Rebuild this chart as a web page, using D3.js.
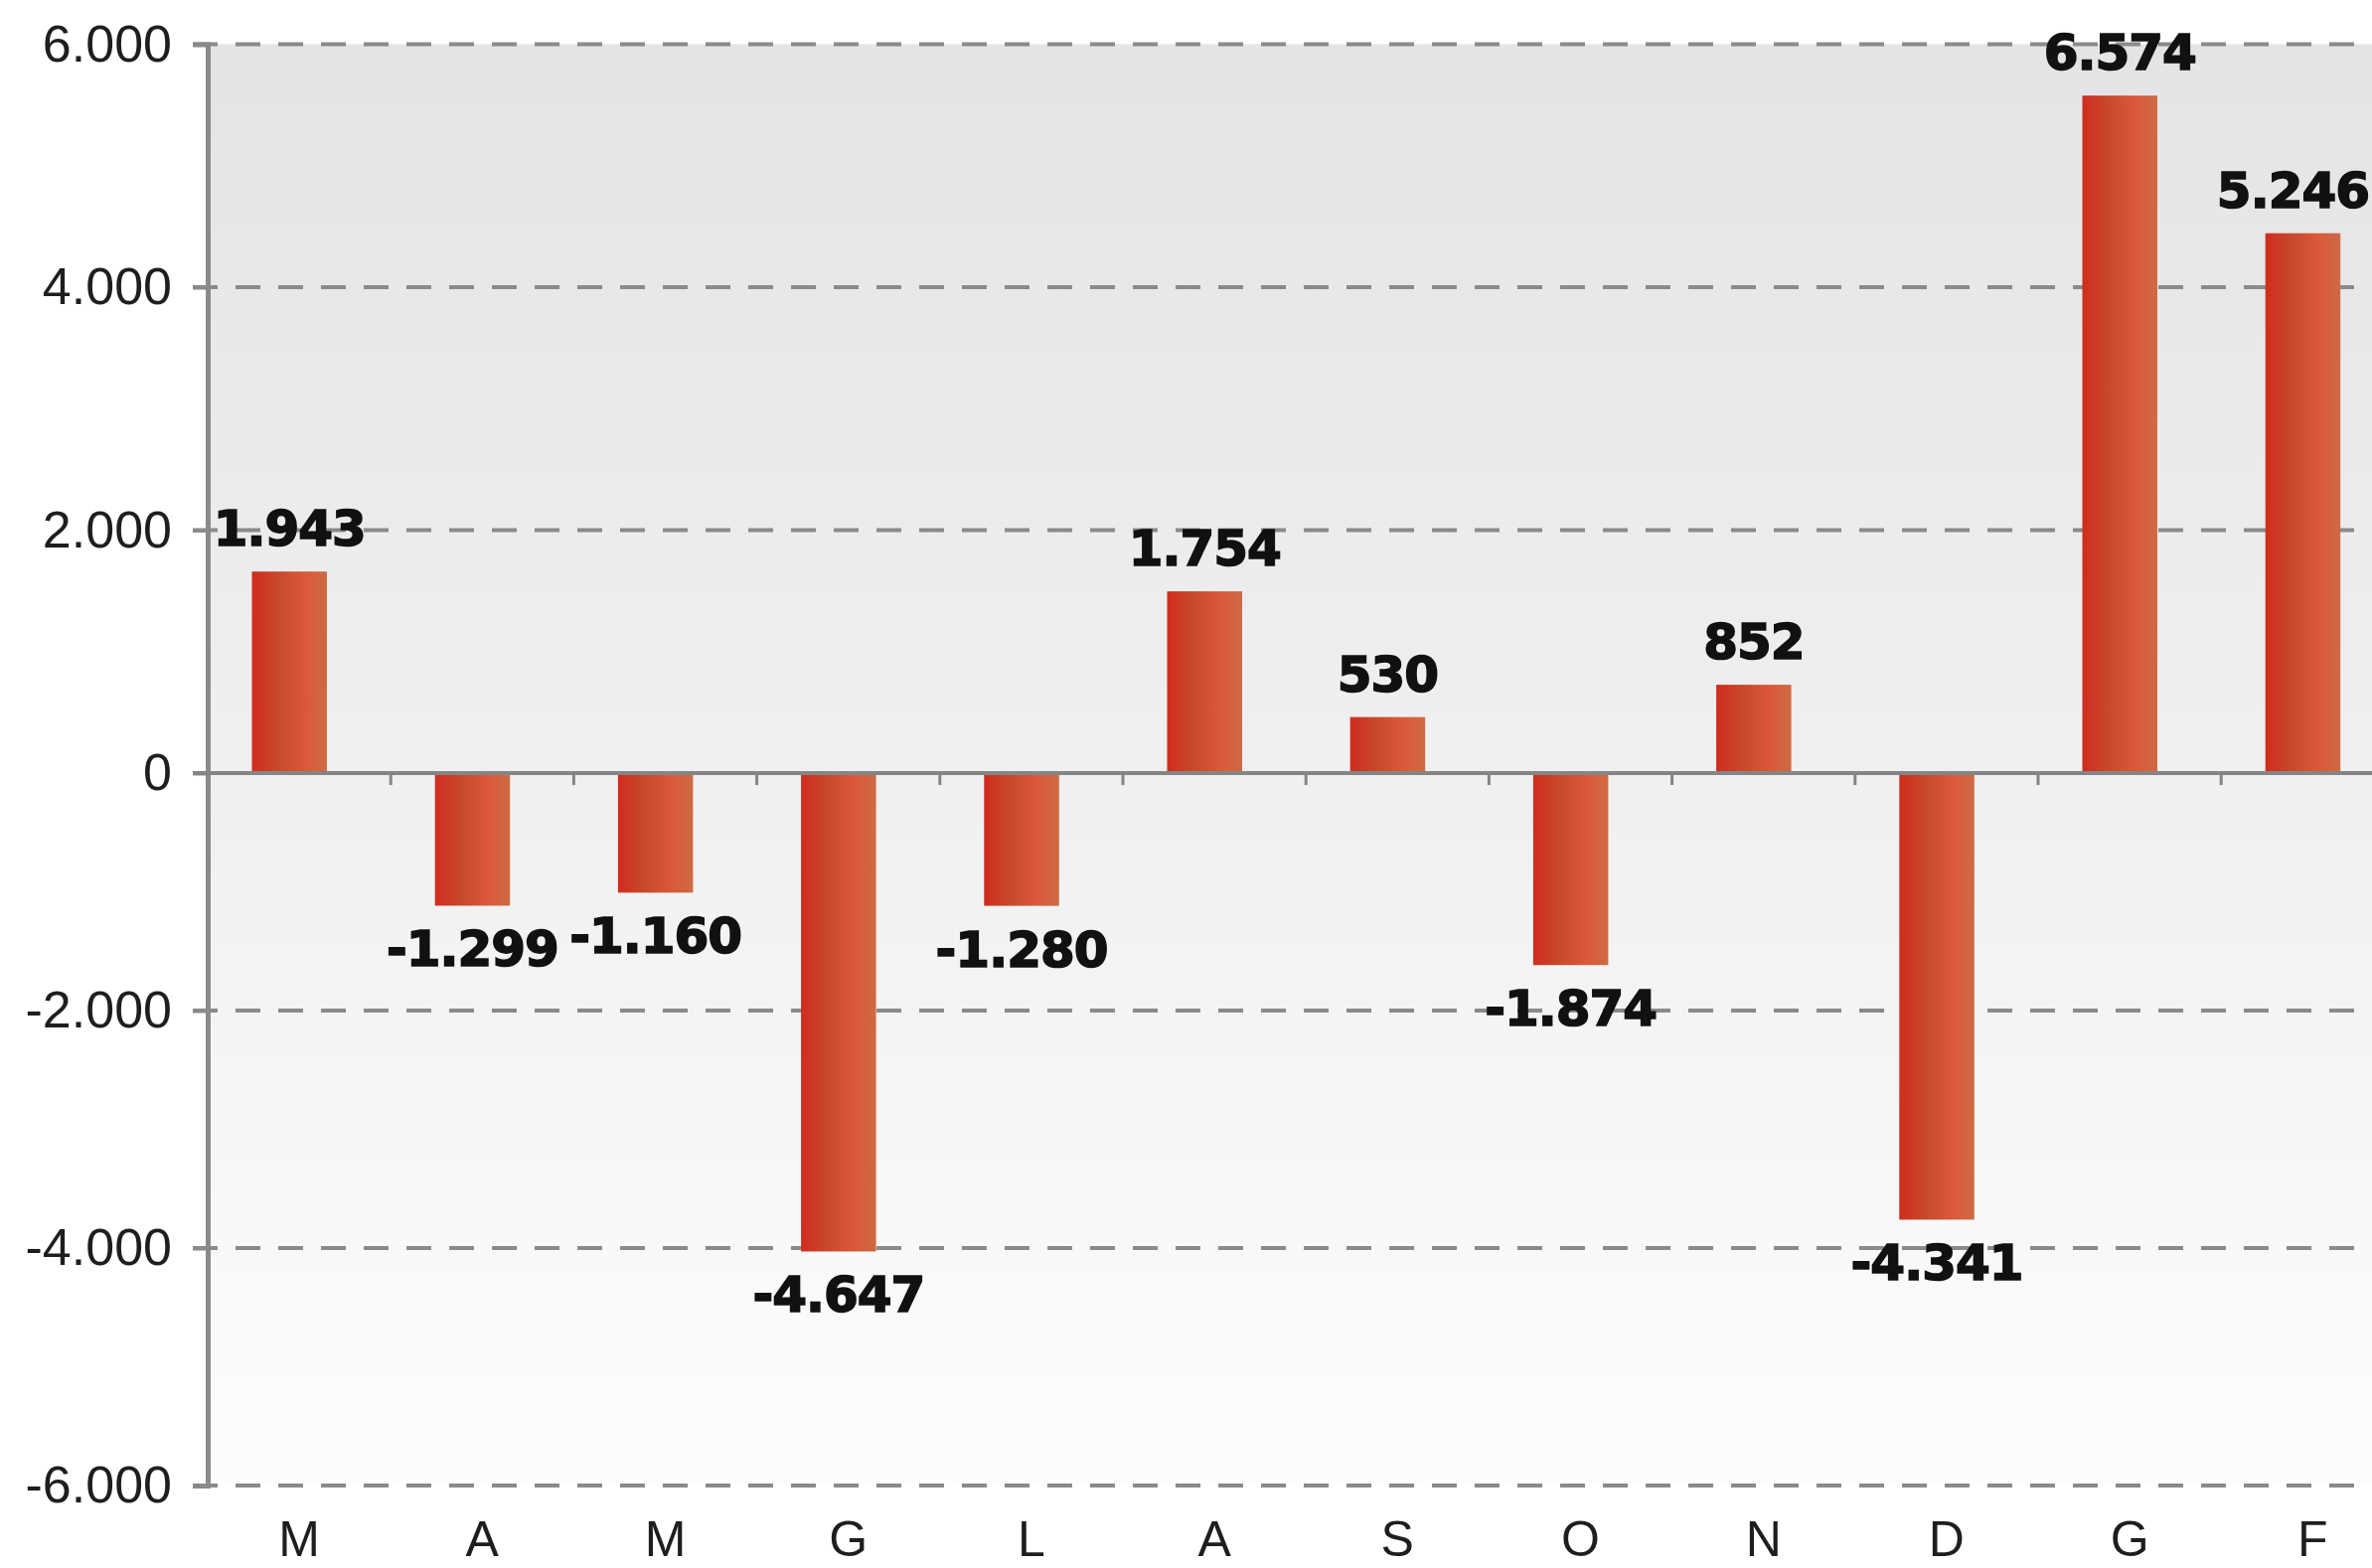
<!DOCTYPE html>
<html>
<head>
<meta charset="utf-8">
<script src="https://cdn.jsdelivr.net/npm/d3@7"></script>
<style>
  body { margin: 0; background: #fff; }
  svg { display: block; }
</style>
</head>
<body>
<svg id="chart"></svg>
<script>
// months of the period, the repeating letters are kept by index
const months = ["M", "A", "M", "G", "L", "A", "S", "O", "N", "D", "G", "F"];
// bar heights as drawn against the axis
const barValues = [1659, -1117, -1007, -4029, -1118, 1496, 461, -1617, 727, -3761, 5577, 4444];
// numbers printed over the bars
const labelValues = [1943, -1299, -1160, -4647, -1280, 1754, 530, -1874, 852, -4341, 6574, 5246];
const yTicks = [6000, 4000, 2000, 0, -2000, -4000, -6000];

const width = 2387;
const height = 1578;
const axisX = 209;
const step = 184.2;

const svg = d3.select("#chart").attr("width", width).attr("height", height);

const fmt = d3.formatLocale({
  decimal: ",",
  thousands: ".",
  grouping: [3],
  currency: ["", "€"],
  minus: "-",
}).format(",");

const x = d3
  .scaleBand()
  .domain(d3.range(months.length))
  .range([axisX, axisX + step * months.length])
  .padding(0);

const y = d3.scaleLinear().domain([-6000, 0, 6000]).range([1495, 778, 44.5]);

const defs = svg.append("defs");

const bg = defs
  .append("linearGradient")
  .attr("id", "bg")
  .attr("x1", 0).attr("y1", 0).attr("x2", 0).attr("y2", 1);
bg.append("stop").attr("offset", "0%").attr("stop-color", "#e4e4e6");
bg.append("stop").attr("offset", "55%").attr("stop-color", "#f1f1f2");
bg.append("stop").attr("offset", "100%").attr("stop-color", "#fdfdfd");

const barFill = defs
  .append("linearGradient")
  .attr("id", "barFill")
  .attr("x1", 0).attr("y1", 0).attr("x2", 1).attr("y2", 0);
barFill.append("stop").attr("offset", "0%").attr("stop-color", "#d02c1e");
barFill.append("stop").attr("offset", "35%").attr("stop-color", "#c7492c");
barFill.append("stop").attr("offset", "70%").attr("stop-color", "#db583a");
barFill.append("stop").attr("offset", "100%").attr("stop-color", "#cd6b44");

// plot background
svg
  .append("rect")
  .attr("x", axisX)
  .attr("y", y(6000))
  .attr("width", width - axisX)
  .attr("height", y(-6000) - y(6000))
  .attr("fill", "url(#bg)");

// dashed grid, the zero line is solid
svg
  .append("g")
  .selectAll("line")
  .data(yTicks.filter((t) => t !== 0))
  .enter()
  .append("line")
  .attr("x1", axisX - 15)
  .attr("x2", width)
  .attr("y1", (t) => y(t))
  .attr("y2", (t) => y(t))
  .style("stroke", "#8a8a8a")
  .style("stroke-width", 4)
  .style("stroke-dasharray", "25 18");

// y axis
const yAxis = svg
  .append("g")
  .attr("transform", `translate(${axisX},0)`)
  .call(d3.axisLeft(y).tickValues(yTicks).tickFormat(fmt).tickSize(15).tickPadding(21));
yAxis.select(".domain").style("stroke", "#8a8a8a").style("stroke-width", 5);
yAxis.selectAll(".tick line").style("stroke", "#8a8a8a").style("stroke-width", 4);
yAxis
  .selectAll(".tick text")
  .style("font-family", "'Liberation Sans', Arial, sans-serif")
  .style("font-size", "52px")
  .style("fill", "#1e1e1e");

// bars
svg
  .append("g")
  .selectAll("rect")
  .data(barValues)
  .enter()
  .append("rect")
  .attr("x", (v, i) => x(i) + 44.5)
  .attr("width", 75.5)
  .attr("y", (v) => y(Math.max(0, v)))
  .attr("height", (v) => Math.abs(y(v) - y(0)))
  .attr("fill", "url(#barFill)");

// zero line and category ticks
svg
  .append("line")
  .attr("x1", axisX - 15)
  .attr("x2", width)
  .attr("y1", y(0))
  .attr("y2", y(0))
  .style("stroke", "#858585")
  .style("stroke-width", 4);

svg
  .append("g")
  .selectAll("line")
  .data(d3.range(1, months.length))
  .enter()
  .append("line")
  .attr("x1", (i) => x(i))
  .attr("x2", (i) => x(i))
  .attr("y1", y(0))
  .attr("y2", y(0) + 12)
  .style("stroke", "#858585")
  .style("stroke-width", 3);

// value labels, kept inside the right edge
const labels = svg
  .append("g")
  .selectAll("text")
  .data(labelValues)
  .enter()
  .append("text")
  .attr("y", (v, i) => (barValues[i] >= 0 ? y(barValues[i]) - 26 : y(barValues[i]) + 61))
  .attr("text-anchor", "middle")
  .style("font-family", "'DejaVu Sans', sans-serif")
  .style("font-weight", "bold")
  .style("font-size", "50px")
  .style("letter-spacing", "-1px")
  .style("fill", "#111")
  .style("stroke", "#111")
  .style("stroke-width", 1.6)
  .text((v) => fmt(v));

labels.attr("x", function (v, i) {
  const cx = x(i) + 44.5 + 75.5 / 2;
  const half = this.getComputedTextLength() / 2;
  return Math.min(cx, width - 3 - half);
});

// month letters
svg
  .append("g")
  .selectAll("text")
  .data(months)
  .enter()
  .append("text")
  .attr("x", (m, i) => x(i) + x.bandwidth() / 2)
  .attr("y", 1566)
  .attr("text-anchor", "middle")
  .style("font-family", "'Liberation Sans', Arial, sans-serif")
  .style("font-size", "50px")
  .style("fill", "#1e1e1e")
  .text((m) => m);
</script>
</body>
</html>
